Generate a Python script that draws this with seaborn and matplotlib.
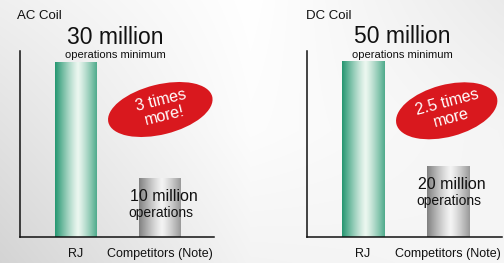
import numpy as np
import matplotlib
matplotlib.use("Agg")
import matplotlib.pyplot as plt
from matplotlib.patches import Ellipse
import seaborn as sns

# ---- data ----
categories = ["RJ", "Competitors (Note)"]
ac_values = [30, 10]
dc_values = [50, 20]
panel_titles = ["AC Coil", "DC Coil"]
rj_labels = ["30 million", "50 million"]
rj_sublabel = "operations minimum"
comp_labels = ["10 million", "20 million"]
comp_sublabel = "operations"
badge_texts = ["3 times\nmore!", "2.5 times\nmore"]

sns.set_theme(style="white")
plt.rcParams['font.family'] = ['Liberation Sans Narrow', 'Liberation Sans', 'DejaVu Sans']

W, H, DPI = 504, 263, 100
fig = plt.figure(figsize=(W / DPI, H / DPI), dpi=DPI)

# ---- background gradient ----
bg_ax = fig.add_axes([0, 0, 1, 1], zorder=-10)
gx = np.array([0, 250, 504])
gy = np.array([0, 130, 263])
gv = np.array([[0.94, 1.00, 0.92],
               [0.886, 0.99, 0.96],
               [0.83, 0.955, 0.965]])
xx = np.arange(W)
yy = np.arange(H)
rows = np.array([np.interp(xx, gx, r) for r in gv])
img = np.array([np.interp(yy, gy, rows[:, i]) for i in range(W)]).T
bg_ax.imshow(np.dstack([img] * 3), extent=[0, W, H, 0], aspect='auto')
bg_ax.set_axis_off()

def px_rect(x0, x1, ytop, ybot):
    return [x0 / W, 1 - ybot / H, (x1 - x0) / W, (ybot - ytop) / H]

green_edge = np.array([36, 150, 112]) / 255
green_mid = np.array([236, 247, 240]) / 255
gray_edge = np.array([128, 128, 128]) / 255
gray_mid = np.array([244, 244, 244]) / 255

def grad(edge, mid, n=200):
    t = np.linspace(0, 1, n)
    d = np.abs(t - 0.55) / 0.55
    d = np.clip(d, 0, 1) ** 1.2
    cols = mid[None, :] * (1 - d[:, None]) + edge[None, :] * d[:, None]
    return cols[None, :, :]

panels = [
    dict(rect=px_rect(19.5, 214, 51, 237), vals=ac_values, xlim=(-0.673, 1.643),
         ymax=31.9, ell=(160.3, 109.5, 107, 50, 14), btxt=(163, 108), tx=17),
    dict(rect=px_rect(307, 502, 51, 237), vals=dc_values, xlim=(-0.659, 1.635),
         ymax=53.1, ell=(446.7, 110.8, 104, 52, 15), btxt=(449, 110), tx=306),
]

for i, p in enumerate(panels):
    ax = fig.add_axes(p["rect"])
    ax.patch.set_alpha(0)
    sns.barplot(x=categories, y=p["vals"], ax=ax, width=0.5,
                palette=[tuple(green_edge), tuple(gray_edge)], hue=categories,
                legend=False, saturation=1)
    for j, patch in enumerate(ax.patches):
        x0, w, h = patch.get_x(), patch.get_width(), patch.get_height()
        g = grad(green_edge if j == 0 else gray_edge, green_mid if j == 0 else gray_mid)
        ax.imshow(g, extent=[x0, x0 + w, 0, h], aspect='auto', zorder=2)
        patch.set_visible(False)
    ax.set_xlim(*p["xlim"])
    ax.set_ylim(0, p["ymax"])
    ax.set_yticks([])
    ax.set_ylabel("")
    for s in ["top", "right"]:
        ax.spines[s].set_visible(False)
    for s in ["left", "bottom"]:
        ax.spines[s].set_color("#111111")
        ax.spines[s].set_linewidth(1.1)
    ax.tick_params(axis='x', length=0, pad=8, labelsize=9, labelcolor="#111111")

    v = p["vals"]
    ax.annotate(rj_labels[i], (0, v[0]), xytext=(28, 18), textcoords='offset points',
                ha='center', va='center', fontsize=16.5, color="#111111", annotation_clip=False)
    ax.annotate(rj_sublabel, (0, v[0]), xytext=(28, 5), textcoords='offset points',
                ha='center', va='center', fontsize=8, color="#111111", annotation_clip=False)
    ax.annotate(comp_labels[i], (1, v[1]), xytext=(2.5, -13), textcoords='offset points',
                ha='center', va='center', fontsize=11.5, color="#111111", zorder=5)
    ax.annotate(comp_sublabel, (1, v[1]), xytext=(0.5, -24.5), textcoords='offset points',
                ha='center', va='center', fontsize=10, color="#111111", zorder=5)

    cx, cy, ew, eh, ang = p["ell"]
    e = Ellipse((cx / DPI, (H - cy) / DPI), ew / DPI, eh / DPI, angle=ang,
                transform=fig.dpi_scale_trans, facecolor="#d9181e", edgecolor='none',
                zorder=6, clip_on=False)
    ax.add_patch(e)
    bx, by = p["btxt"]
    ax.text(bx / DPI, (H - by) / DPI, badge_texts[i], transform=fig.dpi_scale_trans,
            ha='center', va='center', rotation=ang, color='white', fontsize=11.5,
            linespacing=1.05, zorder=7, clip_on=False)

    fig.text(p["tx"] / W, 1 - 16 / H, panel_titles[i], ha='left', va='center',
             fontsize=9.5, color="#111111")

fig.savefig("out.png", dpi=DPI)
